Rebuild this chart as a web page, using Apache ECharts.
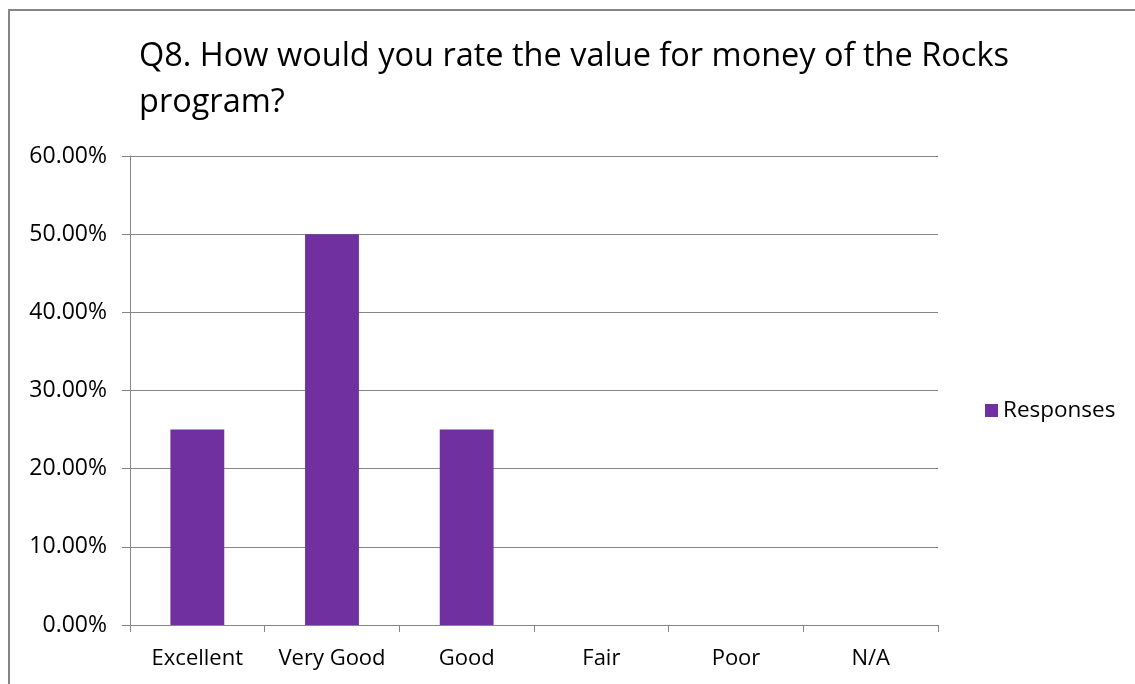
<!DOCTYPE html>
<html>
<head>
<meta charset="utf-8">
<script src="https://cdn.jsdelivr.net/npm/echarts@6/dist/echarts.min.js"></script>
<style>
html,body{margin:0;padding:0;background:#fff;}
#c{width:1135px;height:684px;}
</style>
</head>
<body>
<div id="c"></div>
<script>
const categories = ['Excellent', 'Very Good', 'Good', 'Fair', 'Poor', 'N/A'];
const responses = [0.25, 0.50, 0.25, 0, 0, 0];
const seriesName = 'Responses';
const titleText = 'Q8. How would you rate the value for money of the Rocks\nprogram?';

const font = '"Open Sans", "Noto Sans", sans-serif';
const chart = echarts.init(document.getElementById('c'));
chart.setOption({
  animation: false,
  backgroundColor: '#fff',
  title: {
    text: titleText,
    left: 134,
    top: 29,
    textStyle: { fontFamily: font, fontSize: 32.5, fontWeight: 'normal', color: '#000', lineHeight: 46 }
  },
  legend: {
    data: [seriesName],
    left: 980,
    top: 394,
    itemWidth: 13,
    itemHeight: 13,
    itemGap: 8,
    icon: 'rect',
    textStyle: { fontFamily: font, fontSize: 22.5, color: '#000' }
  },
  grid: { left: 130, right: 197, top: 156, bottom: 59, containLabel: false },
  xAxis: {
    type: 'category',
    data: categories,
    axisLine: { lineStyle: { color: '#868686', width: 1 } },
    axisTick: { show: true, interval: 0, length: 7, lineStyle: { color: '#868686' } },
    axisLabel: { interval: 0, hideOverlap: false, fontFamily: font, fontSize: 22, color: '#000', margin: 23 }
  },
  yAxis: {
    type: 'value',
    min: 0,
    max: 0.6,
    interval: 0.1,
    axisLine: { show: true, lineStyle: { color: '#868686', width: 1 } },
    axisTick: { show: true, length: 8, lineStyle: { color: '#868686' } },
    splitLine: { lineStyle: { color: '#868686', width: 1 } },
    axisLabel: {
      fontFamily: font, fontSize: 23, color: '#000', margin: 23,
      formatter: v => (v * 100).toFixed(2) + '%'
    }
  },
  series: [{
    name: seriesName,
    type: 'bar',
    data: responses,
    barWidth: '40%',
    itemStyle: { color: '#7030A0' }
  }],
  graphic: [
    { type: 'line', shape: { x1: 9, y1: 10, x2: 9, y2: 684 }, style: { stroke: '#868686', lineWidth: 2 } },
    { type: 'line', shape: { x1: 8, y1: 10, x2: 1135, y2: 10 }, style: { stroke: '#868686', lineWidth: 2 } }
  ]
});
</script>
</body>
</html>
